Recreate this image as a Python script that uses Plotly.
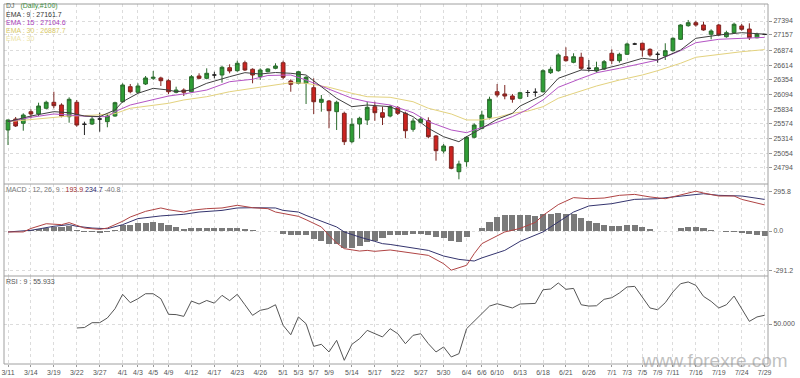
import plotly.graph_objects as go

# ---------------- data ----------------
bars = list(range(100))
opens = [25466,25660,25584,25789,25749,25850,25956,25908,25701,25956,
         25567,25572,25660,25613,25713,25966,26232,26133,26280,26380,
         26386,26338,26133,26173,26143,26421,26380,26439,26439,26568,
         26515,26656,26540,26409,26497,26557,26656,26333,26292,26292,
         26214,25956,25979,25790,25761,25259,25572,25643,25878,25772,
         25713,25860,25761,25478,25602,25630,25360,25094,25170,24728,
         24905,25337,25496,25690,26143,26103,26067,26027,26129,26133,
         26143,26480,26515,26762,26663,26752,26557,26510,26545,26823,
         26692,26805,26987,27000,26893,26805,26775,26869,27070,27311,
         27364,27323,27159,27323,27116,27187,27306,27252,27098,27157]
highs = [25650,25696,25761,25832,25949,25984,26143,25938,26044,25997,
         25613,25701,25772,25749,25966,26292,26280,26292,26421,26510,
         26409,26363,26232,26203,26439,26469,26557,26497,26598,26628,
         26692,26692,26557,26557,26557,26646,26692,26363,26510,26421,
         26380,26085,25997,25984,25790,25673,25701,25966,25966,25878,
         25908,25890,25790,25673,25701,25690,25377,25218,25183,24923,
         25360,25584,25807,26055,26280,26262,26103,26143,26173,26203,
         26540,26586,26823,26929,26823,26833,26704,26674,26704,26893,
         26833,27010,27010,27010,26911,26851,27000,27106,27336,27412,
         27399,27382,27247,27341,27222,27364,27341,27353,27187,27165]
lows = [25200,25519,25453,25673,25713,25832,25850,25690,25595,25524,
        25377,25554,25436,25514,25701,25949,26115,26115,26262,26350,
        26244,26103,26115,26067,26126,26363,26363,26380,26303,26469,
        26497,26510,26292,26350,26486,26540,26363,26143,26274,25926,
        25749,25790,25496,25466,25200,25231,25319,25554,25630,25554,
        25690,25731,25319,25436,25584,25319,24923,25054,24771,24594,
        24817,25319,25478,25655,26044,26009,25949,26009,26050,26055,
        26126,26456,26497,26674,26646,26527,26497,26480,26527,26633,
        26656,26792,26969,26762,26762,26656,26704,26851,27058,27293,
        27293,27222,27070,27129,27098,27176,27222,27058,27088,27150]
closes = [25643,25537,25731,25749,25890,25956,25896,25713,26009,25554,
          25567,25660,25660,25713,25949,26262,26143,26244,26386,26398,
          26338,26143,26173,26133,26409,26380,26469,26439,26575,26510,
          26646,26527,26439,26527,26545,26598,26398,26274,26497,26398,
          25966,26009,25807,25956,25259,25567,25673,25867,25772,25690,
          25878,25761,25453,25625,25660,25347,25100,25183,24788,24864,
          25337,25554,25731,26009,26085,26067,26009,26126,26129,26133,
          26515,26540,26793,26692,26762,26557,26557,26568,26674,26692,
          26805,26987,26987,26881,26793,26805,26869,27088,27323,27364,
          27323,27235,27217,27146,27187,27336,27247,27098,27159,27157]

# EMA lines, read at sampled bars
ema9_bars = [0,3,6,8,10,12,14,15,17,19,21,22,24,26,29,31,33,35,37,39,41,43,45,47,50,
             53,55,57,59,60,62,64,66,67,70,72,75,77,80,83,85,88,90,93,96,99]
ema9_vals = [25613,25713,25790,25772,25713,25702,25820,25966,26115,26203,26173,26143,26173,
             26292,26409,26480,26456,26483,26469,26439,26232,26027,25878,25908,25878,
             25702,25496,25347,25259,25347,25496,25655,25761,25890,26085,26380,26527,
             26515,26616,26734,26704,26881,27088,27146,27187,27161.7]
ema15_bars = [0,3,6,8,11,13,14,16,19,21,23,26,29,32,34,37,39,42,45,47,50,53,55,58,60,
              61,63,66,68,70,72,75,77,80,83,85,88,90,93,96,99]
ema15_vals = [25613,25690,25749,25731,25702,25702,25790,25908,26009,26067,26103,26173,
              26320,26363,26430,26439,26350,26186,26027,25966,25908,25772,25613,25466,
              25418,25466,25554,25702,25830,25997,26221,26380,26479,26557,26646,26704,
              26869,27010,27070,27088,27104.6]
ema30_bars = [0,3,8,11,14,16,19,21,23,26,29,34,37,39,42,45,47,50,53,55,58,60,62,64,66,
              68,70,72,75,77,80,83,85,88,90,93,96,99]
ema30_vals = [25613,25655,25713,25726,25755,25850,25908,25938,25997,26055,26143,26250,
              26303,26292,26221,26115,26055,26044,25966,25850,25749,25643,25643,25690,
              25761,25800,25878,26027,26161,26244,26350,26439,26515,26646,26752,26805,
              26851,26887.7]

# MACD (12,26,9)
macd_bars = [0,2,3,5,7,8,9,10,12,13,15,16,18,20,21,23,24,26,28,30,32,34,35,37,38,39,
             41,42,43,44,46,47,48,50,52,53,55,57,58,60,61,62,64,65,67,69,70,72,74,76,
             78,80,82,84,86,88,90,91,93,95,96,99]
macd_vals = [-7,-7,19,54,47,62,42,22,12,22,72,104,146,171,158,141,154,166,171,191,173,
             166,141,116,109,84,30,-32,-89,-131,-149,-144,-151,-141,-156,-161,-181,
             -243,-291,-255,-168,-94,-32,-7,19,64,116,196,248,240,245,265,272,253,240,
             270,295.8,282,260,260,235,193.9]
signal_bars = [0,3,6,8,9,11,13,15,17,20,23,25,28,30,32,35,36,38,39,41,43,44,46,48,49,
               50,52,55,57,59,61,62,65,67,70,74,76,79,82,85,87,91,93,96,99]
signal_vals = [-7,5,35,47,35,22,17,47,92,112,124,141,153,171,173,171,153,141,116,72,30,
               -7,-45,-77,-94,-100,-119,-144,-186,-211,-223,-200,-144,-77,-7,141,186,
               203,235,240,253,277,265,260,234.7]
hist_vals = [0,0,0,4,15,26,30,30,37,7,
             -5,-10,-17,-10,7,41,48,56,63,69,
             63,41,30,15,22,22,22,22,22,22,
             26,15,4,0,0,0,-22,-26,-26,-26,
             -59,-71,-93,-93,-126,-126,-111,-82,-71,-52,
             -30,-30,-33,-22,-19,-26,-48,-52,-78,-82,
             -48,-2,26,69,102,119,119,119,119,111,
             123,130,136,130,126,100,78,56,48,37,
             37,45,45,33,15,0,0,2,19,30,
             30,22,7,0,-7,-10,-13,-25,-30,-40.8]

# RSI (9)
rsi_bars = list(range(9, 100))
rsi_vals = [47.3,47.6,50.9,50.9,54.1,60.4,70.2,64.5,67.2,70.6,
            70.6,67.2,56.6,56.4,55.2,65.6,63.6,66.0,64.2,69.5,
            65.9,70.2,63.1,55.9,59.3,60.4,63.1,49.1,42.7,54.8,
            50.2,34.8,36.2,31.0,38.9,25.3,36.2,40.0,45.7,43.4,
            41.2,46.8,43.4,36.6,42.3,43.4,36.6,31.0,34.4,27.6,
            29.8,46.8,51.8,57.0,62.2,63.8,62.6,60.9,63.6,64.0,
            64.0,73.3,73.8,77.9,73.6,74.2,63.1,62.2,62.4,66.8,
            67.9,71.1,75.2,75.6,68.4,60.9,59.7,64.5,71.8,77.4,
            78.6,76.3,68.8,65.4,60.9,63.1,69.0,60.4,51.8,54.8,55.933]

# x-axis labels (bar index of each labelled trading day; 4/19 has no bar)
tick_bars = [0,3,6,9,12,15,17,19,21,24,27,30,33,36,38,40,42,45,48,51,54,57,60,62,64,
             67,70,73,76,79,81,83,85,87,90,93,96,99]
tick_labels = ["3/11","3/14","3/19","3/22","3/27","4/1","4/3","4/5","4/9","4/12","4/17",
               "4/23","4/26","5/1","5/3","5/7","5/9","5/14","5/17","5/22","5/27","5/30",
               "6/4","6/6","6/10","6/13","6/18","6/21","6/26","7/1","7/3","7/5","7/9",
               "7/11","7/16","7/19","7/24","7/29"]
price_ticks = [24794,25054,25314,25574,25834,26094,26354,26614,26874,27157,27394]
macd_ticks = [-291.2, 0.0, 295.8]
rsi_ticks = [50.0]

# ---------------- figure ----------------
W, H = 800, 378
L, R, T, B = 4, 32, 4, 14
PW, PH = W - L - R, H - T - B


def py(p):
    return (H - B - p) / PH


def px(p):
    return (p - L) / PW


doji = [i for i in bars if opens[i] == closes[i]]
norm = [i for i in bars if opens[i] != closes[i]]

fig = go.Figure()
fig.add_trace(go.Candlestick(
    x=norm, open=[opens[i] for i in norm], high=[highs[i] for i in norm],
    low=[lows[i] for i in norm], close=[closes[i] for i in norm],
    increasing=dict(fillcolor="#2f9e36", line=dict(color="#2a6a2c", width=1)),
    decreasing=dict(fillcolor="#cc2320", line=dict(color="#7c2622", width=1)),
    whiskerwidth=0, xaxis="x", yaxis="y", hoverinfo="skip"))
fig.add_trace(go.Candlestick(
    x=doji, open=[opens[i] for i in doji], high=[highs[i] for i in doji],
    low=[lows[i] for i in doji], close=[closes[i] for i in doji],
    increasing=dict(fillcolor="#222", line=dict(color="#222", width=1)),
    decreasing=dict(fillcolor="#222", line=dict(color="#222", width=1)),
    whiskerwidth=0, xaxis="x", yaxis="y", hoverinfo="skip"))
fig.add_trace(go.Scatter(x=ema30_bars, y=ema30_vals, mode="lines",
                         line=dict(color="#e3d27e", width=1), yaxis="y"))
fig.add_trace(go.Scatter(x=ema15_bars, y=ema15_vals, mode="lines",
                         line=dict(color="#b454c4", width=1), yaxis="y"))
fig.add_trace(go.Scatter(x=ema9_bars, y=ema9_vals, mode="lines",
                         line=dict(color="#404040", width=1), yaxis="y"))

fig.add_trace(go.Bar(x=bars, y=hist_vals, width=0.8,
                     marker=dict(color="#7a7a7a", line=dict(width=0)), yaxis="y2"))
fig.add_trace(go.Scatter(x=signal_bars, y=signal_vals, mode="lines",
                         line=dict(color="#34346e", width=1), yaxis="y2"))
fig.add_trace(go.Scatter(x=macd_bars, y=macd_vals, mode="lines",
                         line=dict(color="#b04444", width=1), yaxis="y2"))

fig.add_trace(go.Scatter(x=rsi_bars, y=rsi_vals, mode="lines",
                         line=dict(color="#555555", width=1), yaxis="y3"))

font = "Arial, Liberation Sans"
grid = dict(showgrid=True, gridcolor="#dcdcdc", griddash="dot", gridwidth=1)
tickstyle = dict(ticks="outside", ticklen=3, tickcolor="#999", automargin=False,
                 tickfont=dict(family=font, size=7, color="#555"))

main_dom = [py(184), 1]
macd_dom = [py(276), py(184)]
rsi_dom = [0, py(276)]

fig.update_layout(
    width=W, height=H, margin=dict(l=L, r=R, t=T, b=B, pad=0, autoexpand=False),
    paper_bgcolor="white", plot_bgcolor="white", showlegend=False,
    bargap=0, dragmode=False,
    xaxis=dict(range=[-0.523, 99.44], anchor="y3", tickvals=tick_bars, ticktext=tick_labels,
               tickangle=0, showline=False, zeroline=False, rangeslider=dict(visible=False),
               **grid, **dict(tickstyle, ticklen=2)),
    yaxis=dict(domain=main_dom, range=[24510.6, 27694.7], side="right", anchor="x",
               tickvals=price_ticks, ticktext=[str(v) for v in price_ticks],
               zeroline=False, showline=False, **grid, **tickstyle),
    yaxis2=dict(domain=macd_dom, range=[-334.4, 349.2], side="right", anchor="x",
                tickvals=macd_ticks, ticktext=["%.1f" % v for v in macd_ticks],
                zeroline=False, showline=False, **grid, **tickstyle),
    yaxis3=dict(domain=rsi_dom, range=[22.8, 82.65], side="right", anchor="x",
                tickvals=rsi_ticks, ticktext=["%.3f" % v for v in rsi_ticks],
                zeroline=False, showline=False, **grid, **tickstyle),
)

# panel frame
border = "#a0a0a0"
fig.add_shape(type="rect", xref="paper", yref="paper", x0=0, x1=1, y0=0, y1=1,
              line=dict(color=border, width=1))
for yy in (184, 276):
    fig.add_shape(type="line", xref="paper", yref="paper", x0=0, x1=1, y0=py(yy), y1=py(yy),
                  line=dict(color=border, width=1))


def label(text, x, y, color="#555", size=7):
    fig.add_annotation(text=text, xref="paper", yref="paper", x=px(x), y=py(y),
                       xanchor="left", yanchor="middle", showarrow=False,
                       font=dict(family=font, size=size, color=color))


label("DJ&nbsp;&nbsp;&nbsp;<span style='color:#3c8c3c'>(Daily,#100)</span>", 4, 6.5, "#5a6a5a")
label("EMA : 9 : 27161.7", 4, 14.5, "#333333")
label("EMA : 15 : 27104.6", 4, 22.5, "#a63cb8")
label("EMA : 30 : 26887.7", 4, 30.5, "#d8c868")
label("EMA : 30", 4, 38, "#ece4a8")
label("MACD : 12, 26, 9 : <span style='color:#9c2a2a'>193.9</span> "
      "<span style='color:#2c2c6c'>234.7</span> -40.8", 4, 189.5, "#777")
label("RSI : 9 : 55.933", 4, 281, "#555")

fig.add_annotation(text="www.forexre.com", xref="paper", yref="paper", x=px(714), y=py(360),
                   xanchor="center", yanchor="middle", showarrow=False,
                   font=dict(family=font, size=19, color="rgba(140,140,140,0.55)"))

fig.write_html("out.html", config={"displayModeBar": False, "staticPlot": True},
               post_script="document.body.style.margin='0px';")
